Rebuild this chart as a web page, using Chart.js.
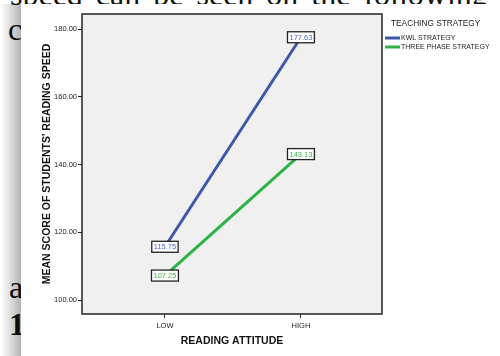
<!DOCTYPE html>
<html>
<head>
<meta charset="utf-8">
<script src="https://cdn.jsdelivr.net/npm/chart.js@4"></script>
<style>
  html, body { margin: 0; padding: 0; background: #fff; }
  #page { position: relative; width: 500px; height: 356px; overflow: hidden; background: #fff; }
  .doc { position: absolute; font-family: "Liberation Serif", serif; font-size: 32px; line-height: 32px; color: #111; white-space: nowrap; }
  #shadow { position: absolute; left: 0; top: 4px; width: 21px; height: 352px;
    background: linear-gradient(to right, rgba(0,0,0,0), rgba(0,0,0,0.1) 40%, rgba(0,0,0,0.3)); }
  #box { position: absolute; left: 21px; top: 4px; width: 479px; height: 352px; background: #fff; }
  #wrap { position: absolute; left: 0; top: 0; width: 500px; height: 356px; }
</style>
</head>
<body>
<div id="page">
  <div class="doc" style="left:10px; top:-22px; word-spacing:5px;">speed can be seen on the following</div>
  <div class="doc" style="left:8px; top:13px;">c</div>
  <div class="doc" style="left:9px; top:271px;">a</div>
  <div class="doc" style="left:9px; top:308px; font-weight:bold;">1</div>
  <div id="shadow"></div>
  <div id="box"></div>
  <div id="wrap"><canvas id="chart" width="500" height="356"></canvas></div>
</div>
<script>
// values
const categories = ['LOW', 'HIGH'];
const kwl = [115.75, 177.63];
const threePhase = [107.25, 143.13];
const yTicks = [100, 120, 140, 160, 180];
const seriesNames = ['KWL STRATEGY', 'THREE PHASE STRATEGY'];
const legendTitle = 'TEACHING STRATEGY';

const lineColors = ['rgb(62, 88, 172)', 'rgb(45, 178, 70)'];
const labelColors = ['#5068c4', '#38b548'];
const font = '"Liberation Sans", Arial, sans-serif';

function toPoints(values) {
    return values.map((v, i) => ({ x: i, y: v }));
}

// grey plot area with black frame
const frame = {
    id: 'frame',
    beforeDatasetsDraw(chart) {
        const a = chart.chartArea, ctx = chart.ctx;
        ctx.save();
        ctx.fillStyle = '#f0f0f0';
        ctx.fillRect(a.left, a.top, a.right - a.left, a.bottom - a.top);
        ctx.restore();
    },
    afterDatasetsDraw(chart) {
        const a = chart.chartArea, ctx = chart.ctx;
        ctx.save();
        ctx.strokeStyle = '#222';
        ctx.lineWidth = 1.5;
        ctx.strokeRect(a.left, a.top, a.right - a.left, a.bottom - a.top);
        ctx.restore();
    }
};

// boxed value labels sitting on each point
const valueBoxes = {
    id: 'valueBoxes',
    afterDatasetsDraw(chart) {
        const ctx = chart.ctx;
        ctx.save();
        ctx.font = '7.5px ' + font;
        ctx.textAlign = 'center';
        ctx.textBaseline = 'middle';
        chart.data.datasets.forEach((ds, i) => {
            chart.getDatasetMeta(i).data.forEach((pt, j) => {
                const txt = ds.data[j].y.toFixed(2);
                const w = ctx.measureText(txt).width + 4;
                const h = 11;
                ctx.fillStyle = '#fff';
                ctx.fillRect(pt.x - w / 2, pt.y - h / 2, w, h);
                ctx.strokeStyle = '#222';
                ctx.lineWidth = 1.3;
                ctx.strokeRect(pt.x - w / 2, pt.y - h / 2, w, h);
                ctx.fillStyle = labelColors[i];
                ctx.fillText(txt, pt.x, pt.y + 0.5);
            });
        });
        ctx.restore();
    }
};

// legend on the right
const sideLegend = {
    id: 'sideLegend',
    afterDraw(chart) {
        const ctx = chart.ctx;
        ctx.save();
        ctx.textBaseline = 'middle';
        ctx.fillStyle = '#222';
        ctx.font = '8.3px ' + font;
        ctx.fillText(legendTitle, 391, 24);
        ctx.font = '7px ' + font;
        chart.data.datasets.forEach((ds, i) => {
            const y = 38 + i * 9;
            ctx.strokeStyle = ds.borderColor;
            ctx.lineWidth = 3;
            ctx.beginPath();
            ctx.moveTo(385, y);
            ctx.lineTo(400, y);
            ctx.stroke();
            ctx.fillStyle = '#222';
            ctx.fillText(ds.label, 401, y + 0.5);
        });
        ctx.restore();
    }
};

new Chart(document.getElementById('chart').getContext('2d'), {
    type: 'line',
    data: {
        datasets: [
            { label: seriesNames[0], data: toPoints(kwl), borderColor: lineColors[0], borderWidth: 3, pointRadius: 0, tension: 0 },
            { label: seriesNames[1], data: toPoints(threePhase), borderColor: lineColors[1], borderWidth: 3, pointRadius: 0, tension: 0 }
        ]
    },
    options: {
        responsive: false,
        animation: false,
        layout: { padding: { top: 14, right: 118, bottom: 0, left: 0 } },
        plugins: { legend: { display: false }, tooltip: { enabled: false } },
        scales: {
            x: {
                type: 'linear',
                min: -0.61,
                max: 1.596,
                afterBuildTicks(scale) { scale.ticks = categories.map((c, i) => ({ value: i })); },
                afterFit(scale) { scale.height = 42; },
                ticks: { callback: v => categories[v], font: { family: font, size: 7.5 }, color: '#222', padding: 3, maxRotation: 0 },
                grid: { drawOnChartArea: false, tickLength: 4, tickColor: '#222', tickWidth: 1 },
                border: { display: false },
                title: { display: true, text: 'READING ATTITUDE', font: { family: font, size: 10.5, weight: 'bold' }, color: '#111', padding: { top: 0, bottom: 9 } }
            },
            y: {
                min: 95.9,
                max: 184.5,
                afterBuildTicks(scale) { scale.ticks = yTicks.map(v => ({ value: v })); },
                afterFit(scale) { scale.width = 82; },
                ticks: { callback: v => v.toFixed(2), font: { family: font, size: 7.5 }, color: '#222', padding: 1 },
                grid: { drawOnChartArea: false, tickLength: 4, tickColor: '#222', tickWidth: 1 },
                border: { display: false },
                title: { display: true, text: "MEAN SCORE OF STUDENTS' READING SPEED", font: { family: font, size: 10.5, weight: 'bold' }, color: '#111', padding: { top: 41, bottom: 0 } }
            }
        }
    },
    plugins: [frame, valueBoxes, sideLegend]
});
</script>
</body>
</html>
